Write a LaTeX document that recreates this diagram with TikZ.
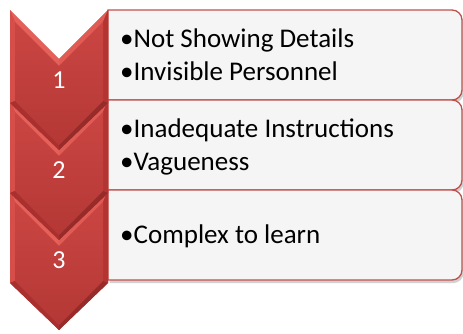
\documentclass[tikz,border=0pt]{standalone}
\usepackage{fontspec}
\setmainfont{Carlito}
\usetikzlibrary{shadows}
\definecolor{cred}{RGB}{192,80,77}
\definecolor{chmain}{RGB}{200,62,59}
\definecolor{chtop}{RGB}{230,96,90}
\definecolor{chleft}{RGB}{214,78,74}
\definecolor{chright}{RGB}{180,52,50}
\definecolor{chbot}{RGB}{168,48,46}
\definecolor{boxfill}{RGB}{245,245,245}
\tikzset{
  boxshape/.style={draw=cred, line width=1.3pt, fill=boxfill,
    drop shadow={shadow xshift=1.5pt, shadow yshift=-3pt, opacity=0.3, fill=black!60}},
  itemtext/.style={anchor=base west, inner sep=0pt, text=black,
    font=\fontsize{27}{33}\selectfont},
  numtext/.style={anchor=base, inner sep=0pt, text=white, font=\fontsize{26}{32}\selectfont},
}
\newcommand{\chev}[2]{%
  % #1 = top y, #2 = name
  \coordinate (#2-TL) at (10,#1);
  \coordinate (#2-N) at (59,#1+49);
  \coordinate (#2-TR) at (108,#1);
  \coordinate (#2-BR) at (108,#1+93);
  \coordinate (#2-T) at (59,#1+140);
  \coordinate (#2-BL) at (10,#1+93);
  \coordinate (#2-TLi) at (15,#1+12.07);
  \coordinate (#2-Ni) at (59,#1+56.07);
  \coordinate (#2-TRi) at (103,#1+12.07);
  \coordinate (#2-BRi) at (103,#1+90.93);
  \coordinate (#2-Ti) at (59,#1+134.93);
  \coordinate (#2-BLi) at (15,#1+90.93);
  \fill[chmain] (#2-TL) -- (#2-N) -- (#2-TR) -- (#2-BR) -- (#2-T) -- (#2-BL) -- cycle;
  \fill[chtop] (#2-TL) -- (#2-N) -- (#2-Ni) -- (#2-TLi) -- cycle;
  \fill[chtop!85!chmain] (#2-N) -- (#2-TR) -- (#2-TRi) -- (#2-Ni) -- cycle;
  \fill[chleft] (#2-TL) -- (#2-TLi) -- (#2-BLi) -- (#2-BL) -- cycle;
  \fill[chright] (#2-TR) -- (#2-BR) -- (#2-BRi) -- (#2-TRi) -- cycle;
  \fill[chbot] (#2-BL) -- (#2-BLi) -- (#2-Ti) -- (#2-T) -- cycle;
  \fill[chbot!90!black] (#2-T) -- (#2-Ti) -- (#2-BRi) -- (#2-BR) -- cycle;
  \shade[top color=chmain!96!white, bottom color=chmain!90!black] (#2-TLi) -- (#2-Ni) -- (#2-TRi) -- (#2-BRi) -- (#2-Ti) -- (#2-BLi) -- cycle;
}
\newcommand{\textbox}[1]{%
  \path[boxshape] (108,#1) -- (300,#1) [rounded corners=10pt] -- (462,#1) -- (462,#1+90) -- (300,#1+90) [sharp corners] -- (108,#1+90) -- cycle;
}
\begin{document}
\begin{tikzpicture}[x=1pt,y=-1pt]
\useasboundingbox (0,0) rectangle (463,333);
% text boxes
\textbox{10}
\textbox{100}
\textbox{190}
% chevrons, lowest first
\chev{190}{c3}
\chev{100}{c2}
\chev{10}{c1}
% numbers
\node[numtext] (n1) at (59,88) {1};
\node[numtext] (n2) at (59,178) {2};
\node[numtext] (n3) at (59,268) {3};
% texts
\node[itemtext] (t1a) at (120,47) {•Not Showing Details};
\node[itemtext] (t1b) at (120,80) {•Invisible Personnel};
\node[itemtext] (t2a) at (120,137) {•Inadequate Instructions};
\node[itemtext] (t2b) at (120,170) {•Vagueness};
\node[itemtext] (t3) at (120,243) {•Complex to learn};
\end{tikzpicture}
\end{document}
